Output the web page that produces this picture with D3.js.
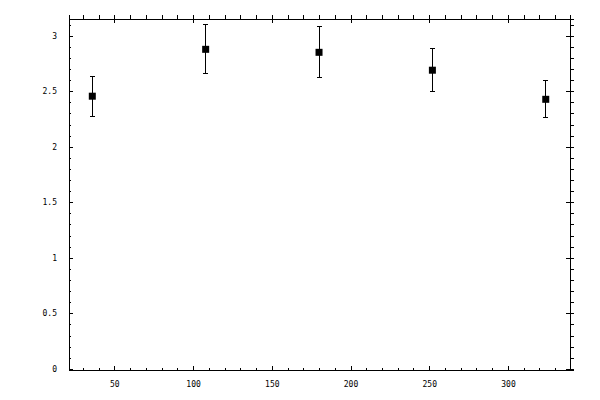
<!DOCTYPE html>
<html>
<head>
<meta charset="utf-8">
<script src="https://cdn.jsdelivr.net/npm/d3@7"></script>
<style>
  html, body { margin: 0; padding: 0; background: #fff; }
  svg text { font-family: "DejaVu Sans Mono", monospace; font-size: 8px; fill: #000; }
</style>
</head>
<body>
<div id="chart"></div>
<script>
// données
const xValues = [36, 108, 180, 252, 324];
const yValues = [2.455, 2.877, 2.850, 2.689, 2.427];
const yErrors = [0.180, 0.220, 0.230, 0.193, 0.167];
const xTicks = [50, 100, 150, 200, 250, 300];
const yTicks = [0, 0.5, 1, 1.5, 2, 2.5, 3];
const yTickLabels = ["0", "0.5", "1", "1.5", "2", "2.5", "3"];

const width = 600;
const height = 400;
const margin = { top: 19, right: 30, bottom: 30, left: 69 };

const svg = d3.select("#chart")
  .append("svg")
  .attr("width", width)
  .attr("height", height);

const xScale = d3.scaleLinear()
  .domain([21.2, 339.4])
  .range([margin.left, width - margin.right]);

const yScale = d3.scaleLinear()
  .domain([-0.01, 3.15])
  .range([height - margin.bottom, margin.top]);

const xMinor = d3.range(30, 340, 10).filter(v => v % 50 !== 0);
const yMinor = d3.range(0, 32).map(i => i / 10).filter(v => Math.round(v * 10) % 5 !== 0);

const noLabel = () => "";

// axe du bas : graduations vers l'intérieur
svg.append("g")
  .attr("transform", `translate(0, ${height - margin.bottom})`)
  .call(d3.axisBottom(xScale).tickValues(xMinor).tickSize(-2).tickFormat(noLabel));
svg.append("g")
  .attr("transform", `translate(0, ${height - margin.bottom})`)
  .call(d3.axisBottom(xScale).tickValues(xTicks).tickSize(-4).tickPadding(11));

// axe de gauche
svg.append("g")
  .attr("transform", `translate(${margin.left}, 0)`)
  .call(d3.axisLeft(yScale).tickValues(yMinor).tickSize(-2).tickFormat(noLabel));
svg.append("g")
  .attr("transform", `translate(${margin.left}, 0)`)
  .call(d3.axisLeft(yScale).tickValues(yTicks).tickSize(-4).tickPadding(12)
    .tickFormat((d, i) => yTickLabels[i]));

// axe du haut : petites graduations vers l'extérieur, grandes des deux côtés
svg.append("g")
  .attr("transform", `translate(0, ${margin.top})`)
  .call(d3.axisTop(xScale).tickValues(xMinor).tickSize(4).tickFormat(noLabel));
svg.append("g")
  .attr("transform", `translate(0, ${margin.top})`)
  .call(d3.axisTop(xScale).tickValues(xTicks).tickSize(4).tickFormat(noLabel))
  .call(g => g.selectAll(".tick line").attr("y2", -4).attr("y1", 4));

// axe de droite
svg.append("g")
  .attr("transform", `translate(${width - margin.right}, 0)`)
  .call(d3.axisRight(yScale).tickValues(yMinor).tickSize(4).tickFormat(noLabel));
svg.append("g")
  .attr("transform", `translate(${width - margin.right}, 0)`)
  .call(d3.axisRight(yScale).tickValues(yTicks).tickSize(4).tickFormat(noLabel))
  .call(g => g.selectAll(".tick line").attr("x1", -4).attr("x2", 4));

svg.selectAll(".domain").attr("stroke", "#000").attr("stroke-width", 1);
svg.selectAll(".tick line").attr("stroke", "#000").attr("shape-rendering", "crispEdges");
svg.selectAll(".tick text").attr("font-family", "DejaVu Sans Mono").attr("font-size", 8);
svg.selectAll(".domain").attr("shape-rendering", "crispEdges");

// cadre complet
svg.append("rect")
  .attr("x", margin.left)
  .attr("y", margin.top)
  .attr("width", width - margin.left - margin.right)
  .attr("height", height - margin.top - margin.bottom)
  .attr("fill", "none")
  .attr("stroke", "#000")
  .attr("shape-rendering", "crispEdges");

const data = xValues.map((x, i) => ({ x, y: yValues[i], err: yErrors[i] }));

// barres d'erreur
const bars = svg.append("g").attr("stroke", "#000").attr("shape-rendering", "crispEdges");
bars.selectAll("line.v")
  .data(data)
  .join("line")
  .attr("class", "v")
  .attr("x1", d => xScale(d.x))
  .attr("x2", d => xScale(d.x))
  .attr("y1", d => yScale(d.y - d.err))
  .attr("y2", d => yScale(d.y + d.err));
bars.selectAll("line.top")
  .data(data)
  .join("line")
  .attr("class", "top")
  .attr("x1", d => xScale(d.x) - 2.5)
  .attr("x2", d => xScale(d.x) + 2.5)
  .attr("y1", d => yScale(d.y + d.err))
  .attr("y2", d => yScale(d.y + d.err));
bars.selectAll("line.bot")
  .data(data)
  .join("line")
  .attr("class", "bot")
  .attr("x1", d => xScale(d.x) - 2.5)
  .attr("x2", d => xScale(d.x) + 2.5)
  .attr("y1", d => yScale(d.y - d.err))
  .attr("y2", d => yScale(d.y - d.err));

// marqueurs carrés
svg.selectAll("rect.pt")
  .data(data)
  .join("rect")
  .attr("class", "pt")
  .attr("x", d => xScale(d.x) - 3.5)
  .attr("y", d => yScale(d.y) - 3.5)
  .attr("width", 7)
  .attr("height", 7)
  .attr("fill", "#000");
</script>
</body>
</html>
